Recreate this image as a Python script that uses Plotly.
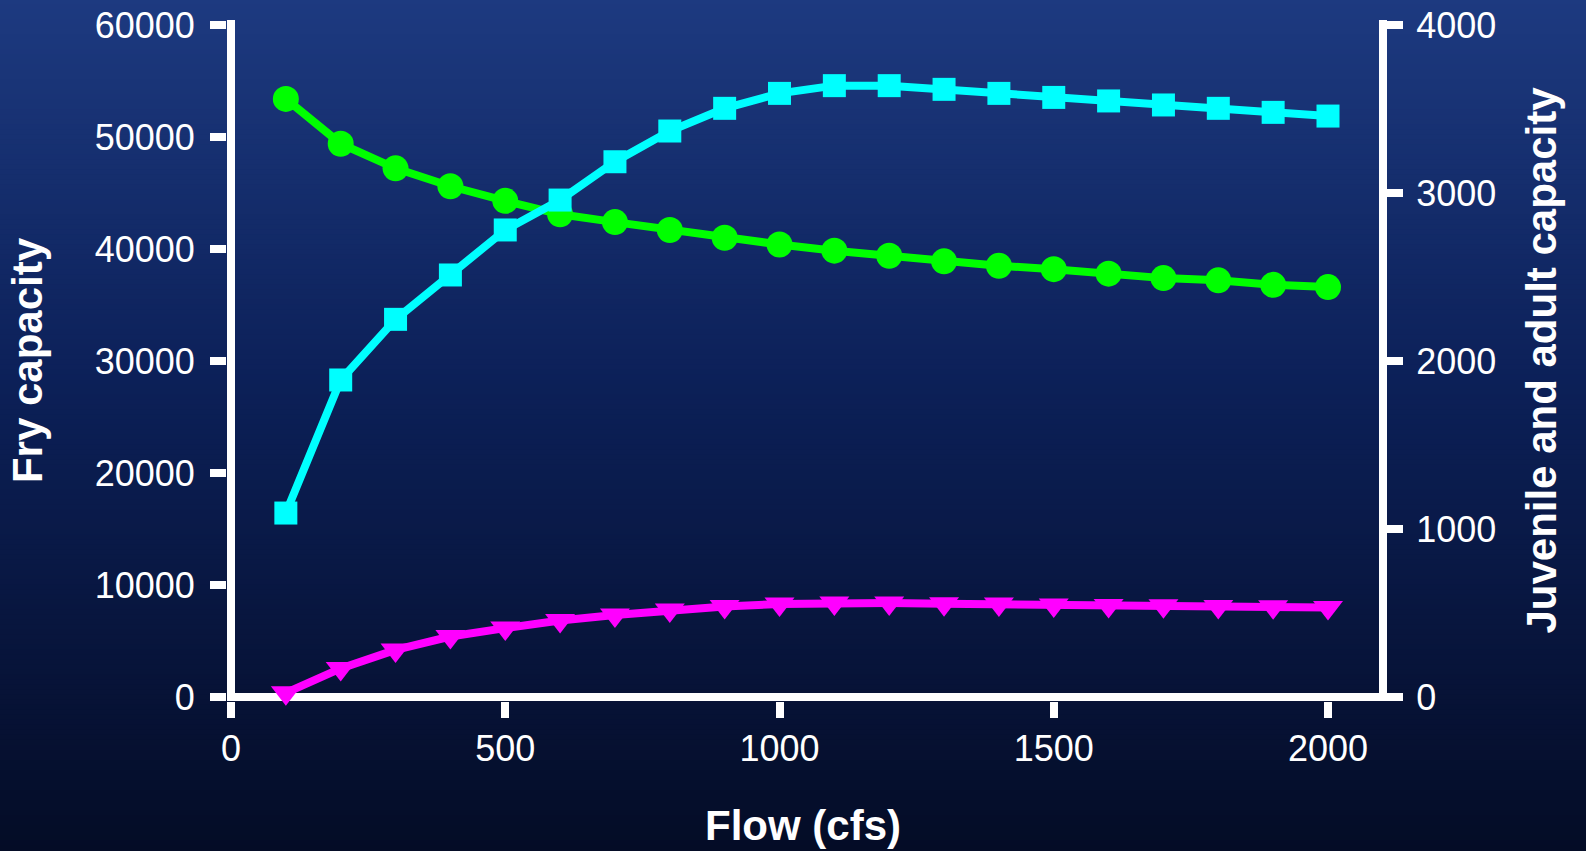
import plotly.graph_objects as go

# Flow (cfs) at which capacity was computed
flow = [100, 200, 300, 400, 500, 600, 700, 800, 900, 1000,
        1100, 1200, 1300, 1400, 1500, 1600, 1700, 1800, 1900, 2000]

# Fry capacity (left axis)
fry = [53400, 49400, 47200, 45600, 44300, 43100, 42400, 41700, 41000, 40400,
       39850, 39400, 38900, 38500, 38200, 37800, 37400, 37200, 36800, 36600]

# Juvenile and adult capacity (right axis)
juvenile = [1095, 1887, 2248, 2512, 2780, 2958, 3186, 3369, 3504, 3593,
            3639, 3639, 3617, 3593, 3569, 3548, 3524, 3504, 3480, 3458]
adult = [25, 170, 280, 360, 410, 455, 488, 518, 539, 553,
         559, 559, 555, 553, 548, 545, 543, 539, 537, 533]

left_ticks = [0, 10000, 20000, 30000, 40000, 50000, 60000]
right_ticks = [0, 1000, 2000, 3000, 4000]
x_ticks = [0, 500, 1000, 1500, 2000]

W, H = 1586, 851
M_L, M_R, M_T, M_B = 227, 207, 20, 150
PLOT_W = W - M_L - M_R
PLOT_H = H - M_T - M_B

# The left and bottom axis lines are the zero lines, which sit half a line
# width inside the plot box; ranges start a little below zero for that.
LINE_W = 8
HALF = LINE_W / 2
px_x = (PLOT_W - HALF - 51) / 2000
x_range = [-HALF / px_x, (PLOT_W - HALF) / px_x]
px_y1 = (PLOT_H - HALF - 5) / 60000
y1_range = [-HALF / px_y1, (PLOT_H - HALF) / px_y1]
px_y2 = (PLOT_H - HALF - 5) / 4000
y2_range = [-HALF / px_y2, (PLOT_H - HALF) / px_y2]

FONT = "Liberation Sans, Arial, sans-serif"
WHITE = "#ffffff"

fig = go.Figure()

fig.add_trace(go.Scatter(
    x=flow, y=fry, mode="lines+markers", name="Fry",
    line=dict(color="#00ff00", width=8),
    marker=dict(symbol="circle", size=26, color="#00ff00"),
    cliponaxis=False, yaxis="y"))

fig.add_trace(go.Scatter(
    x=flow, y=juvenile, mode="lines+markers", name="Juvenile",
    line=dict(color="#00ffff", width=8),
    marker=dict(symbol="square", size=23, color="#00ffff"),
    cliponaxis=False, yaxis="y2"))

fig.add_trace(go.Scatter(
    x=flow, y=adult, mode="lines+markers", name="Adult",
    line=dict(color="#ff00ff", width=8),
    marker=dict(symbol="triangle-down", size=26, color="#ff00ff"),
    cliponaxis=False, yaxis="y2"))

# Dark blue vertical gradient behind everything
top_rgb = (29, 58, 128)
mid_rgb = (12, 32, 88)
bot_rgb = (4, 12, 38)
n_bands = 170
shapes = []
for i in range(n_bands):
    t = (i + 0.5) / n_bands
    if t < 0.45:
        u = t / 0.45
        c = [a + (b - a) * u for a, b in zip(top_rgb, mid_rgb)]
    else:
        u = (t - 0.45) / 0.55
        c = [a + (b - a) * u for a, b in zip(mid_rgb, bot_rgb)]
    py0 = H * i / n_bands - 1
    py1 = H * (i + 1) / n_bands + 1
    shapes.append(dict(
        type="rect", xref="paper", yref="paper", layer="below",
        x0=-(M_L + 5) / PLOT_W, x1=1 + (M_R + 5) / PLOT_W,
        y0=(H - M_B - py1) / PLOT_H, y1=(H - M_B - py0) / PLOT_H,
        line=dict(width=0),
        fillcolor="rgb(%d,%d,%d)" % tuple(int(round(v)) for v in c)))

axis_common = dict(
    ticks="outside", ticklen=16, tickwidth=8, tickcolor=WHITE,
    showgrid=False, automargin=False,
    tickfont=dict(family=FONT, size=36, color=WHITE),
)
zero_axis = dict(showline=False, zeroline=True,
                 zerolinecolor=WHITE, zerolinewidth=LINE_W)

fig.update_layout(
    width=W, height=H,
    margin=dict(l=M_L, r=M_R, t=M_T, b=M_B, autoexpand=False),
    paper_bgcolor="#050d2a",
    plot_bgcolor="rgba(0,0,0,0)",
    showlegend=False,
    shapes=shapes,
    xaxis=dict(
        range=x_range, tickvals=x_ticks, ticktext=[str(v) for v in x_ticks],
        title=dict(text="<b>Flow (cfs)</b>", standoff=42,
                   font=dict(family=FONT, size=42, color=WHITE)),
        ticklabelstandoff=0,
        **zero_axis, **axis_common),
    yaxis=dict(
        range=y1_range, tickvals=left_ticks,
        ticktext=[str(v) for v in left_ticks],
        title=dict(text="<b>Fry capacity</b>", standoff=38,
                   font=dict(family=FONT, size=42, color=WHITE)),
        ticklabelstandoff=8,
        **zero_axis, **axis_common),
    yaxis2=dict(
        range=y2_range, tickvals=right_ticks,
        ticktext=[str(v) for v in right_ticks],
        overlaying="y", side="right",
        showline=True, linecolor=WHITE, linewidth=LINE_W, zeroline=False,
        title=dict(text="<b>Juvenile and adult capacity</b>", standoff=34,
                   font=dict(family=FONT, size=42, color=WHITE)),
        ticklabelstandoff=6,
        **axis_common),
)

fig.write_html("out.html")
